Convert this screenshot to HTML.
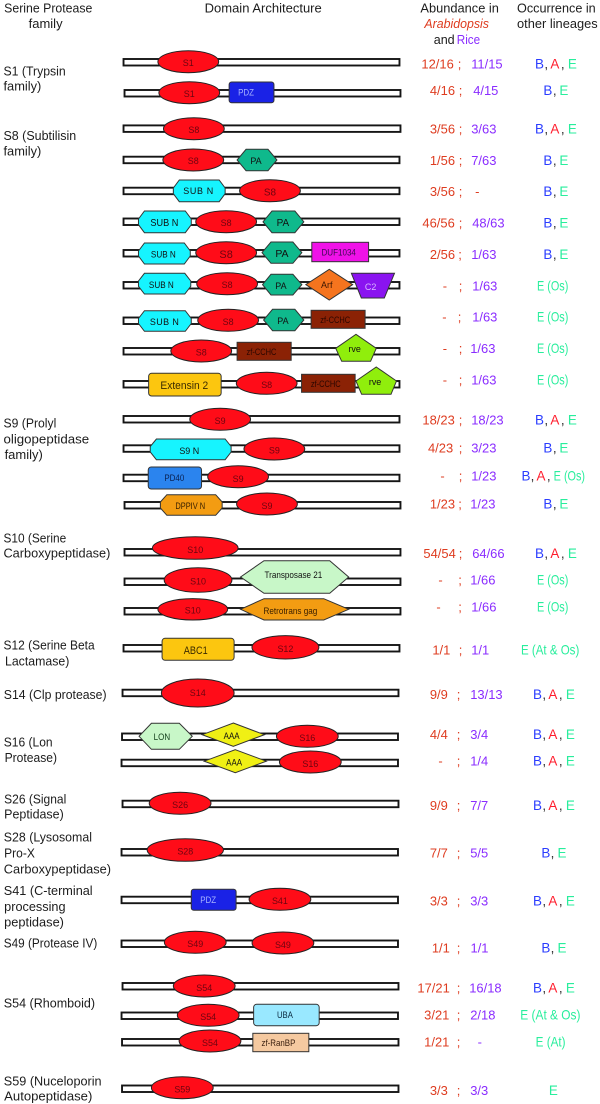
<!DOCTYPE html>
<html lang="en">
<head>
<meta charset="utf-8">
<title>Serine protease domain architecture</title>
<style>
html,body{margin:0;padding:0;background:#fff;width:600px;height:1104px;overflow:hidden}
svg{display:block}
text{font-family:"Liberation Sans",sans-serif}
.h{font-size:12.5px;fill:#1c1c1c}
.l{font-size:12.5px;fill:#1c1c1c}
.ar{font-size:13px;fill:#de3c20}
.ri{font-size:13px;fill:#8a2cff}
.o{font-size:13.5px;fill:#333}
.b{fill:#2a3cff}.a{fill:#ff1c2c}.e{fill:#28ee9c}
.bar{fill:#fff;stroke:#151515;stroke-width:1.9}
.el{fill:#ff0c18;stroke:#222;stroke-width:1}
.dm{stroke:#333;stroke-width:1}
.t{font-size:9px;text-anchor:middle;fill:#111}
.rd{fill:#6d0410}
</style>
</head>
<body>
<svg width="600" height="1104" viewBox="0 0 600 1104" xmlns="http://www.w3.org/2000/svg">
<g transform="scale(0.9962 1)">

<g>
<text class="h" x="4.2" y="12.7" textLength="88.5" lengthAdjust="spacingAndGlyphs">Serine Protease</text>
<text class="h" x="28.8" y="28" textLength="34" lengthAdjust="spacingAndGlyphs">family</text>
<text class="h" x="205.4" y="12.7" textLength="117.6" lengthAdjust="spacingAndGlyphs">Domain Architecture</text>
<text class="h" x="422" y="12.7" textLength="78.8" lengthAdjust="spacingAndGlyphs">Abundance in</text>
<text class="h" x="426" y="28" textLength="64.8" lengthAdjust="spacingAndGlyphs" style="font-style:italic;fill:#de3c20">Arabidopsis</text>
<text class="h" x="435.4" y="44" textLength="21" lengthAdjust="spacingAndGlyphs">and</text>
<text class="h" x="458.5" y="44" textLength="23.5" lengthAdjust="spacingAndGlyphs" style="fill:#8a2cff">Rice</text>
<text class="h" x="519" y="12.7" textLength="79" lengthAdjust="spacingAndGlyphs">Occurrence in</text>
<text class="h" x="519" y="28" textLength="81" lengthAdjust="spacingAndGlyphs">other lineages</text>
</g>

<g>
<text class="l" x="3.5" y="75.3" textLength="62.5" lengthAdjust="spacingAndGlyphs">S1 (Trypsin</text>
<text class="l" x="3.5" y="90.7" textLength="38" lengthAdjust="spacingAndGlyphs">family)</text>
<text class="l" x="3.5" y="140" textLength="73" lengthAdjust="spacingAndGlyphs">S8 (Subtilisin</text>
<text class="l" x="3.5" y="155.7" textLength="38" lengthAdjust="spacingAndGlyphs">family)</text>
<text class="l" x="3.5" y="427.7" textLength="53" lengthAdjust="spacingAndGlyphs">S9 (Prolyl</text>
<text class="l" x="3.5" y="443.3" textLength="86" lengthAdjust="spacingAndGlyphs">oligopeptidase</text>
<text class="l" x="4.6" y="459" textLength="38.4" lengthAdjust="spacingAndGlyphs">family)</text>
<text class="l" x="3.5" y="542.3" textLength="63" lengthAdjust="spacingAndGlyphs">S10 (Serine</text>
<text class="l" x="3.5" y="557.7" textLength="107.3" lengthAdjust="spacingAndGlyphs">Carboxypeptidase)</text>
<text class="l" x="3.5" y="649.7" textLength="91.5" lengthAdjust="spacingAndGlyphs">S12 (Serine Beta</text>
<text class="l" x="5" y="665.7" textLength="64.6" lengthAdjust="spacingAndGlyphs">Lactamase)</text>
<text class="l" x="3.8" y="699" textLength="103.2" lengthAdjust="spacingAndGlyphs">S14 (Clp protease)</text>
<text class="l" x="3.8" y="746.7" textLength="49" lengthAdjust="spacingAndGlyphs">S16 (Lon</text>
<text class="l" x="4.6" y="762" textLength="52.7" lengthAdjust="spacingAndGlyphs">Protease)</text>
<text class="l" x="4.2" y="803.3" textLength="62.3" lengthAdjust="spacingAndGlyphs">S26 (Signal</text>
<text class="l" x="4.2" y="818.3" textLength="59.8" lengthAdjust="spacingAndGlyphs">Peptidase)</text>
<text class="l" x="3.8" y="841.7" textLength="88.5" lengthAdjust="spacingAndGlyphs">S28 (Lysosomal</text>
<text class="l" x="4.2" y="857.3" textLength="30.8" lengthAdjust="spacingAndGlyphs">Pro-X</text>
<text class="l" x="3.8" y="873.3" textLength="107.7" lengthAdjust="spacingAndGlyphs">Carboxypeptidase)</text>
<text class="l" x="3.8" y="895" textLength="89.2" lengthAdjust="spacingAndGlyphs">S41 (C-terminal</text>
<text class="l" x="4.2" y="911" textLength="61.6" lengthAdjust="spacingAndGlyphs">processing</text>
<text class="l" x="4.2" y="926.7" textLength="60" lengthAdjust="spacingAndGlyphs">peptidase)</text>
<text class="l" x="3.8" y="947.3" textLength="93.9" lengthAdjust="spacingAndGlyphs">S49 (Protease IV)</text>
<text class="l" x="3.8" y="1007.3" textLength="91.6" lengthAdjust="spacingAndGlyphs">S54 (Rhomboid)</text>
<text class="l" x="3.8" y="1085.3" textLength="98.2" lengthAdjust="spacingAndGlyphs">S59 (Nuceloporin</text>
<text class="l" x="4.2" y="1100.7" textLength="88.5" lengthAdjust="spacingAndGlyphs">Autopeptidase)</text>
</g>

<g>
<rect class="bar" x="124" y="59" width="277" height="6.5"/>
<ellipse class="el" cx="189" cy="61.7" rx="30.5" ry="11"/>
<text class="t rd" x="189" y="66">S1</text>
</g>
<g>
<rect class="bar" x="125" y="90" width="277" height="6.5"/>
<ellipse class="el" cx="190" cy="92.7" rx="30.5" ry="11"/>
<text class="t rd" x="190" y="97">S1</text>
<rect class="dm" x="230" y="82" width="45" height="20.7" rx="2.5" fill="#1a22e6"/>
<text class="t" style="fill:#a8b4ff" x="247" y="95.5" textLength="16" lengthAdjust="spacingAndGlyphs">PDZ</text>
</g>

<g>
<rect class="bar" x="124" y="125.4" width="278" height="6.5"/>
<ellipse class="el" cx="194.6" cy="128.7" rx="30.5" ry="11"/>
<text class="t rd" x="194.6" y="133">S8</text>
</g>
<g>
<rect class="bar" x="124" y="156.7" width="277" height="6.5"/>
<ellipse class="el" cx="194" cy="160" rx="30.5" ry="11"/>
<text class="t rd" x="194" y="164">S8</text>
<polygon class="dm" points="247,149.3 269,149.3 278,160 269,170.7 247,170.7 238,160" fill="#0fb98c"/>
<text class="t" x="257" y="164">PA</text>
</g>
<g>
<rect class="bar" x="124" y="187.7" width="277" height="6.5"/>
<polygon class="dm" points="180,180 220,180 226,188 226,193.7 220,201.7 180,201.7 174,193.7 174,188" fill="#16f4ff"/>
<text class="t" x="199" y="194" textLength="30" lengthAdjust="spacing">SUB N</text>
<ellipse class="el" cx="271" cy="190.7" rx="30.5" ry="11"/>
<text class="t rd" x="271" y="195.5" style="font-size:10px">S8</text>
</g>
<g>
<rect class="bar" x="124" y="218.5" width="277" height="6.5"/>
<polygon class="dm" points="145,211 186,211 192,219 192,224.7 186,232.7 145,232.7 139,224.7 139,219" fill="#16f4ff"/>
<text class="t" x="165" y="226" style="font-size:10.5px" textLength="28" lengthAdjust="spacingAndGlyphs">SUB N</text>
<ellipse class="el" cx="227" cy="221.7" rx="30.5" ry="11"/>
<text class="t rd" x="227" y="226">S8</text>
<polygon class="dm" points="273,211 296,211 305,221.85 296,232.7 273,232.7 264,221.85" fill="#0fb98c"/>
<text class="t" x="284" y="226" style="font-size:10px">PA</text>
</g>
<g>
<rect class="bar" x="124" y="250" width="277" height="6.5"/>
<polygon class="dm" points="145,243 185,243 191,251 191,256 185,264 145,264 139,256 139,251" fill="#16f4ff"/>
<text class="t" x="164" y="257.5" textLength="25" lengthAdjust="spacingAndGlyphs">SUB N</text>
<ellipse class="el" cx="227" cy="252.7" rx="30.5" ry="11"/>
<text class="t rd" x="227" y="258" style="font-size:11px">S8</text>
<polygon class="dm" points="272,242 294,242 303,252.6 294,263.3 272,263.3 263,252.6" fill="#0fb98c"/>
<text class="t" x="283" y="257" style="font-size:10.5px">PA</text>
<rect class="dm" x="313" y="242.3" width="57" height="19.4" fill="#f012e8"/>
<text class="t" style="fill:#3a0a50" x="340" y="255.5" textLength="34.5" lengthAdjust="spacingAndGlyphs">DUF1034</text>
</g>
<g>
<rect class="bar" x="124" y="282" width="277" height="6.5"/>
<polygon class="dm" points="145,273.3 185.5,273.3 191.5,281 191.5,286.3 185.5,294 145,294 139,286.3 139,281" fill="#16f4ff"/>
<text class="t" x="162" y="288" textLength="25" lengthAdjust="spacingAndGlyphs">SUB N</text>
<ellipse class="el" cx="228" cy="283.7" rx="30.5" ry="11"/>
<text class="t rd" x="228" y="288">S8</text>
<polygon class="dm" points="272,274.3 294,274.3 303,284.6 294,295 272,295 263.5,284.6" fill="#0fb98c"/>
<text class="t" x="282" y="289">PA</text>
<polygon class="dm" points="330.5,269.3 354,284.6 330.5,300 307,284.6" fill="#f5741e"/>
<text class="t" x="328" y="288" style="fill:#3a1500">Arf</text>
<polygon class="dm" points="352.7,273.3 396,273.3 385.8,298 362.7,298" fill="#8a14f0"/>
<text class="t" x="372" y="290" style="fill:#d8b8ff">C2</text>
</g>
<g>
<rect class="bar" x="124" y="317.5" width="277" height="6.5"/>
<polygon class="dm" points="145,310.7 186,310.7 192,318.5 192,323.5 186,331.3 145,331.3 139,323.5 139,318.5" fill="#16f4ff"/>
<text class="t" x="165" y="325" textLength="29" lengthAdjust="spacing">SUB N</text>
<ellipse class="el" cx="229" cy="320.3" rx="30.5" ry="11"/>
<text class="t rd" x="229" y="325">S8</text>
<polygon class="dm" points="273.6,309.3 296,309.3 305,320 296,330.7 273.6,330.7 264.6,320" fill="#0fb98c"/>
<text class="t" x="284" y="324">PA</text>
<rect class="dm" x="312.3" y="310.3" width="54.2" height="18" fill="#8b2205"/>
<text class="t" style="fill:#2a0600" x="336.5" y="323" textLength="30" lengthAdjust="spacingAndGlyphs">zf-CCHC</text>
</g>
<g>
<rect class="bar" x="124" y="348" width="277" height="6.5"/>
<ellipse class="el" cx="202" cy="351" rx="30.5" ry="11"/>
<text class="t rd" x="202" y="355.5">S8</text>
<rect class="dm" x="238" y="342.3" width="54.3" height="18" fill="#8b2205"/>
<text class="t" style="fill:#2a0600" x="262.5" y="355" textLength="30" lengthAdjust="spacingAndGlyphs">zf-CCHC</text>
<polygon class="dm" points="357.3,334.3 377.7,348.3 372,361.3 343,361.3 337,348.3" fill="#90ee0c"/>
<text class="t" x="356" y="352">rve</text>
</g>
<g>
<rect class="bar" x="124" y="381" width="277" height="6.5"/>
<rect class="dm" x="149.2" y="373.3" width="72.8" height="22.7" rx="3" fill="#fcc60f"/>
<text class="t" style="font-size:11px;fill:#3a2a00" x="185" y="389" textLength="48" lengthAdjust="spacingAndGlyphs">Extensin 2</text>
<ellipse class="el" cx="267.7" cy="383.3" rx="30.5" ry="11"/>
<text class="t rd" x="267.7" y="388">S8</text>
<rect class="dm" x="302.7" y="374.3" width="53.8" height="18" fill="#8b2205"/>
<text class="t" style="fill:#2a0600" x="327" y="387" textLength="30" lengthAdjust="spacingAndGlyphs">zf-CCHC</text>
<polygon class="dm" points="377.7,367 398,381 392.5,394.3 363,394.3 357.3,381" fill="#90ee0c"/>
<text class="t" x="376.5" y="385">rve</text>
</g>

<g>
<rect class="bar" x="124" y="416" width="277" height="6.5"/>
<ellipse class="el" cx="221" cy="419.3" rx="30.5" ry="11"/>
<text class="t rd" x="221" y="424">S9</text>
</g>
<g>
<rect class="bar" x="124" y="445.3" width="277" height="6.5"/>
<polygon class="dm" points="157,439 226,439 232,446.5 232,452 226,459.7 157,459.7 150.8,452 150.8,446.5" fill="#16f4ff"/>
<text class="t" x="190" y="454">S9 N</text>
<ellipse class="el" cx="275.4" cy="449" rx="30.5" ry="11"/>
<text class="t rd" x="275.4" y="453.5">S9</text>
</g>
<g>
<rect class="bar" x="124" y="474.7" width="277" height="6.5"/>
<rect class="dm" x="148.8" y="467" width="53.5" height="22" rx="3" fill="#2b84ee"/>
<text class="t" style="fill:#0a2050" x="175" y="481" textLength="20" lengthAdjust="spacingAndGlyphs">PD40</text>
<ellipse class="el" cx="239" cy="476.7" rx="30.5" ry="11"/>
<text class="t rd" x="239" y="482">S9</text>
</g>
<g>
<rect class="bar" x="125" y="502" width="277" height="6.5"/>
<polygon class="dm" points="167.5,494.7 216.5,494.7 223,502 223,508 216.5,515.3 167.5,515.3 161,508 161,502" fill="#f39c12"/>
<text class="t" style="fill:#3a2000" x="191" y="509" textLength="30" lengthAdjust="spacingAndGlyphs">DPPIV N</text>
<ellipse class="el" cx="268" cy="504" rx="30.5" ry="11"/>
<text class="t rd" x="268" y="509">S9</text>
</g>

<g>
<rect class="bar" x="125" y="549" width="277" height="6.5"/>
<ellipse class="el" cx="196" cy="548" rx="43" ry="11.3"/>
<text class="t rd" x="196" y="553">S10</text>
</g>
<g>
<rect class="bar" x="125" y="578.5" width="277" height="6.5"/>
<ellipse class="el" cx="198.8" cy="580" rx="34" ry="12.3"/>
<text class="t rd" x="198.8" y="584.5">S10</text>
<polygon class="dm" points="265,560.7 331,560.7 350,577 331,593.3 265,593.3 241.5,577" fill="#c8f7c8"/>
<text class="t" x="294.5" y="578" textLength="58" lengthAdjust="spacingAndGlyphs">Transposase 21</text>
</g>
<g>
<rect class="bar" x="125" y="608" width="277" height="6.5"/>
<ellipse class="el" cx="193.5" cy="609.3" rx="35" ry="10.7"/>
<text class="t rd" x="193.5" y="613.5">S10</text>
<polygon class="dm" points="265,598.7 325,598.7 350,609.3 325,620 265,620 241.5,609.3" fill="#f39c12"/>
<text class="t" style="fill:#3a2000" x="291.5" y="614" textLength="54" lengthAdjust="spacingAndGlyphs">Retrotrans gag</text>
</g>

<g>
<rect class="bar" x="124" y="645" width="277" height="6.5"/>
<rect class="dm" x="162.7" y="638.3" width="72.3" height="22" rx="3" fill="#fcc60f"/>
<text class="t" style="font-size:11px;fill:#3a2a00" x="196.5" y="654" textLength="24" lengthAdjust="spacingAndGlyphs">ABC1</text>
<ellipse class="el" cx="286.5" cy="647.3" rx="33.6" ry="11.7"/>
<text class="t rd" x="286.5" y="652">S12</text>
</g>
<g>
<rect class="bar" x="123" y="689.7" width="277" height="6.5"/>
<ellipse class="el" cx="198.5" cy="693" rx="36.5" ry="14"/>
<text class="t rd" x="198.5" y="696">S14</text>
</g>
<g>
<rect class="bar" x="122.5" y="733.5" width="277" height="6.5"/>
<polygon class="dm" points="152,723.3 180,723.3 193,736.3 180,749.3 152,749.3 139.6,736.3" fill="#c8f7c8"/>
<text class="t" style="fill:#14401c" x="162.5" y="740" textLength="16.5" lengthAdjust="spacingAndGlyphs">LON</text>
<polygon class="dm" points="234.2,723 265.4,734.7 234.2,746.3 203,734.7" fill="#f0f014"/>
<text class="t" x="232.5" y="739" textLength="16" lengthAdjust="spacingAndGlyphs">AAA</text>
<ellipse class="el" cx="308.5" cy="736.3" rx="31" ry="11"/>
<text class="t rd" x="308.5" y="741">S16</text>
</g>
<g>
<rect class="bar" x="122" y="759.7" width="277.5" height="6.5"/>
<polygon class="dm" points="236.2,749.7 267.3,761.2 236.2,772.7 205,761.2" fill="#f0f014"/>
<text class="t" x="235" y="765.5" textLength="16" lengthAdjust="spacingAndGlyphs">AAA</text>
<ellipse class="el" cx="311.5" cy="762" rx="31" ry="11"/>
<text class="t rd" x="311.5" y="767">S16</text>
</g>
<g>
<rect class="bar" x="123" y="800.7" width="277" height="6.5"/>
<ellipse class="el" cx="180.8" cy="803.3" rx="31" ry="11"/>
<text class="t rd" x="180.8" y="808">S26</text>
</g>
<g>
<rect class="bar" x="122" y="849" width="277.5" height="6.5"/>
<ellipse class="el" cx="186" cy="850" rx="38.3" ry="11.3"/>
<text class="t rd" x="186" y="854.5">S28</text>
</g>
<g>
<rect class="bar" x="122" y="896.7" width="277.5" height="6.5"/>
<rect class="dm" x="192" y="889.3" width="45" height="21" rx="2.5" fill="#1a22e6"/>
<text class="t" style="fill:#a8b4ff" x="209" y="903" textLength="16" lengthAdjust="spacingAndGlyphs">PDZ</text>
<ellipse class="el" cx="281" cy="899.3" rx="31" ry="11"/>
<text class="t rd" x="281" y="904">S41</text>
</g>
<g>
<rect class="bar" x="122" y="940.5" width="277.5" height="6.5"/>
<ellipse class="el" cx="196" cy="942.3" rx="31" ry="11"/>
<text class="t rd" x="196" y="947">S49</text>
<ellipse class="el" cx="284" cy="943" rx="31" ry="11"/>
<text class="t rd" x="284" y="948">S49</text>
</g>
<g>
<rect class="bar" x="123" y="983" width="277" height="6.5"/>
<ellipse class="el" cx="205" cy="986" rx="31" ry="11"/>
<text class="t rd" x="205" y="991">S54</text>
</g>
<g>
<rect class="bar" x="122" y="1012.5" width="277.5" height="6.5"/>
<ellipse class="el" cx="209" cy="1015.3" rx="31" ry="11"/>
<text class="t rd" x="209" y="1020">S54</text>
<rect class="dm" x="254.6" y="1004.3" width="65.8" height="21.4" rx="3" fill="#99e8ff"/>
<text class="t" style="fill:#0a2a40" x="286" y="1018" textLength="16" lengthAdjust="spacingAndGlyphs">UBA</text>
</g>
<g>
<rect class="bar" x="122.5" y="1039" width="277.5" height="6.5"/>
<ellipse class="el" cx="210.8" cy="1041" rx="31" ry="11"/>
<text class="t rd" x="210.8" y="1046">S54</text>
<rect class="dm" x="253.8" y="1033.3" width="56.2" height="18.4" fill="#f5c9a0"/>
<text class="t" style="fill:#3a2010" x="279.5" y="1046" textLength="34" lengthAdjust="spacingAndGlyphs">zf-RanBP</text>
</g>
<g>
<rect class="bar" x="122.5" y="1085.5" width="277.5" height="6.5"/>
<ellipse class="el" cx="183" cy="1087.7" rx="31" ry="11"/>
<text class="t rd" x="183" y="1092.5">S59</text>
</g>

<g>
<text y="68.3"><tspan class="ar" x="423">12/16</tspan><tspan class="ar" x="459.5">;</tspan><tspan class="ri" x="473">11/15</tspan></text>
<text y="95"><tspan class="ar" x="431.5">4/16</tspan><tspan class="ar" x="460.5">;</tspan><tspan class="ri" x="475">4/15</tspan></text>
<text y="133.3"><tspan class="ar" x="431.5">3/56</tspan><tspan class="ar" x="460.5">;</tspan><tspan class="ri" x="473">3/63</tspan></text>
<text y="165"><tspan class="ar" x="431.5">1/56</tspan><tspan class="ar" x="460.5">;</tspan><tspan class="ri" x="473">7/63</tspan></text>
<text y="196"><tspan class="ar" x="431.5">3/56</tspan><tspan class="ar" x="460.5">;</tspan><tspan class="ar" x="477">-</tspan></text>
<text y="227.3"><tspan class="ar" x="424">46/56</tspan><tspan class="ar" x="460.5">;</tspan><tspan class="ri" x="474">48/63</tspan></text>
<text y="259"><tspan class="ar" x="431.5">2/56</tspan><tspan class="ar" x="460">;</tspan><tspan class="ri" x="473">1/63</tspan></text>
<text y="290.3"><tspan class="ar" x="444.5">-</tspan><tspan class="ar" x="460.5">;</tspan><tspan class="ri" x="474">1/63</tspan></text>
<text y="321.7"><tspan class="ar" x="444">-</tspan><tspan class="ar" x="459.5">;</tspan><tspan class="ri" x="474">1/63</tspan></text>
<text y="353"><tspan class="ar" x="444.5">-</tspan><tspan class="ar" x="460.5">;</tspan><tspan class="ri" x="472">1/63</tspan></text>
<text y="384.3"><tspan class="ar" x="444.5">-</tspan><tspan class="ar" x="460.5">;</tspan><tspan class="ri" x="473">1/63</tspan></text>
<text y="424.3"><tspan class="ar" x="424">18/23</tspan><tspan class="ar" x="460.5">;</tspan><tspan class="ri" x="473">18/23</tspan></text>
<text y="452.3"><tspan class="ar" x="429.6">4/23</tspan><tspan class="ar" x="460.5">;</tspan><tspan class="ri" x="473">3/23</tspan></text>
<text y="480.7"><tspan class="ar" x="442">-</tspan><tspan class="ar" x="460.5">;</tspan><tspan class="ri" x="473">1/23</tspan></text>
<text y="508.7"><tspan class="ar" x="431.5">1/23</tspan><tspan class="ar" x="460">;</tspan><tspan class="ri" x="472">1/23</tspan></text>
<text y="558"><tspan class="ar" x="425">54/54</tspan><tspan class="ar" x="460.5">;</tspan><tspan class="ri" x="474">64/66</tspan></text>
<text y="584.7"><tspan class="ar" x="440">-</tspan><tspan class="ar" x="460">;</tspan><tspan class="ri" x="472">1/66</tspan></text>
<text y="611.3"><tspan class="ar" x="438">-</tspan><tspan class="ar" x="460">;</tspan><tspan class="ri" x="473">1/66</tspan></text>
<text y="654.3"><tspan class="ar" x="434">1/1</tspan><tspan class="ar" x="460.5">;</tspan><tspan class="ri" x="473">1/1</tspan></text>
<text y="699"><tspan class="ar" x="431.5">9/9</tspan><tspan class="ar" x="458.5">;</tspan><tspan class="ri" x="472">13/13</tspan></text>
<text y="739"><tspan class="ar" x="431.5">4/4</tspan><tspan class="ar" x="458.5">;</tspan><tspan class="ri" x="472">3/4</tspan></text>
<text y="765.7"><tspan class="ar" x="440">-</tspan><tspan class="ar" x="458.5">;</tspan><tspan class="ri" x="472">1/4</tspan></text>
<text y="810"><tspan class="ar" x="431.5">9/9</tspan><tspan class="ar" x="458.5">;</tspan><tspan class="ri" x="472">7/7</tspan></text>
<text y="857.7"><tspan class="ar" x="431.5">7/7</tspan><tspan class="ar" x="458.5">;</tspan><tspan class="ri" x="472">5/5</tspan></text>
<text y="905.3"><tspan class="ar" x="431.5">3/3</tspan><tspan class="ar" x="458.5">;</tspan><tspan class="ri" x="472">3/3</tspan></text>
<text y="952.7"><tspan class="ar" x="433.5">1/1</tspan><tspan class="ar" x="458.5">;</tspan><tspan class="ri" x="472.3">1/1</tspan></text>
<text y="992.7"><tspan class="ar" x="419">17/21</tspan><tspan class="ar" x="458.5">;</tspan><tspan class="ri" x="471">16/18</tspan></text>
<text y="1019.3"><tspan class="ar" x="425.8">3/21</tspan><tspan class="ar" x="458.5">;</tspan><tspan class="ri" x="472">2/18</tspan></text>
<text y="1046.3"><tspan class="ar" x="425.8">1/21</tspan><tspan class="ar" x="458.5">;</tspan><tspan class="ri" x="479.5">-</tspan></text>
<text y="1095"><tspan class="ar" x="431.5">3/3</tspan><tspan class="ar" x="458.5">;</tspan><tspan class="ri" x="472">3/3</tspan></text>
</g>

<g>
<text class="o" y="68.3"><tspan class="b" x="537">B</tspan><tspan x="546.5">,</tspan><tspan class="a" x="552.5">A</tspan><tspan x="563">,</tspan><tspan class="e" x="570">E</tspan></text>
<text class="o" y="95"><tspan class="b" x="545.5">B</tspan><tspan x="555">,</tspan><tspan class="e" x="561.5">E</tspan></text>
<text class="o" y="133.3"><tspan class="b" x="537">B</tspan><tspan x="546.5">,</tspan><tspan class="a" x="552.5">A</tspan><tspan x="563">,</tspan><tspan class="e" x="570">E</tspan></text>
<text class="o" y="165"><tspan class="b" x="545.5">B</tspan><tspan x="555">,</tspan><tspan class="e" x="561.5">E</tspan></text>
<text class="o" y="196"><tspan class="b" x="545.5">B</tspan><tspan x="555">,</tspan><tspan class="e" x="561.5">E</tspan></text>
<text class="o" y="227.3"><tspan class="b" x="545.5">B</tspan><tspan x="555">,</tspan><tspan class="e" x="561.5">E</tspan></text>
<text class="o" y="259"><tspan class="b" x="545.5">B</tspan><tspan x="555">,</tspan><tspan class="e" x="561.5">E</tspan></text>
<text class="o e" x="539" y="290.3" textLength="31.5" lengthAdjust="spacingAndGlyphs">E (Os)</text>
<text class="o e" x="539" y="321.7" textLength="31.5" lengthAdjust="spacingAndGlyphs">E (Os)</text>
<text class="o e" x="539" y="353" textLength="31.5" lengthAdjust="spacingAndGlyphs">E (Os)</text>
<text class="o e" x="539" y="384.3" textLength="31.5" lengthAdjust="spacingAndGlyphs">E (Os)</text>
<text class="o" y="424.3"><tspan class="b" x="537">B</tspan><tspan x="546.5">,</tspan><tspan class="a" x="552.5">A</tspan><tspan x="563">,</tspan><tspan class="e" x="570">E</tspan></text>
<text class="o" y="452.3"><tspan class="b" x="545.5">B</tspan><tspan x="555">,</tspan><tspan class="e" x="561.5">E</tspan></text>
<text class="o" y="480.7"><tspan class="b" x="523.5">B</tspan><tspan x="532.7">,</tspan><tspan class="a" x="538.5">A</tspan><tspan x="549">,</tspan></text>
<text class="o e" x="555.8" y="480.7" textLength="31.5" lengthAdjust="spacingAndGlyphs">E (Os)</text>
<text class="o" y="508.7"><tspan class="b" x="545.5">B</tspan><tspan x="555">,</tspan><tspan class="e" x="561.5">E</tspan></text>
<text class="o" y="558"><tspan class="b" x="537">B</tspan><tspan x="546.5">,</tspan><tspan class="a" x="552.5">A</tspan><tspan x="563">,</tspan><tspan class="e" x="570">E</tspan></text>
<text class="o e" x="539" y="584.7" textLength="31.5" lengthAdjust="spacingAndGlyphs">E (Os)</text>
<text class="o e" x="539" y="611.3" textLength="31.5" lengthAdjust="spacingAndGlyphs">E (Os)</text>
<text class="o e" x="523" y="654.3" textLength="58.5" lengthAdjust="spacingAndGlyphs">E (At &amp; Os)</text>
<text class="o" y="699"><tspan class="b" x="535">B</tspan><tspan x="544.5">,</tspan><tspan class="a" x="550.5">A</tspan><tspan x="561">,</tspan><tspan class="e" x="568">E</tspan></text>
<text class="o" y="739"><tspan class="b" x="535">B</tspan><tspan x="544.5">,</tspan><tspan class="a" x="550.5">A</tspan><tspan x="561">,</tspan><tspan class="e" x="568">E</tspan></text>
<text class="o" y="765.7"><tspan class="b" x="535">B</tspan><tspan x="544.5">,</tspan><tspan class="a" x="550.5">A</tspan><tspan x="561">,</tspan><tspan class="e" x="568">E</tspan></text>
<text class="o" y="810"><tspan class="b" x="535">B</tspan><tspan x="544.5">,</tspan><tspan class="a" x="550.5">A</tspan><tspan x="561">,</tspan><tspan class="e" x="568">E</tspan></text>
<text class="o" y="857.7"><tspan class="b" x="543.5">B</tspan><tspan x="552.7">,</tspan><tspan class="e" x="559.6">E</tspan></text>
<text class="o" y="905.3"><tspan class="b" x="535">B</tspan><tspan x="544.5">,</tspan><tspan class="a" x="550.5">A</tspan><tspan x="561">,</tspan><tspan class="e" x="568">E</tspan></text>
<text class="o" y="952.7"><tspan class="b" x="543.5">B</tspan><tspan x="552.7">,</tspan><tspan class="e" x="559.6">E</tspan></text>
<text class="o" y="992.7"><tspan class="b" x="535">B</tspan><tspan x="544.5">,</tspan><tspan class="a" x="550.5">A</tspan><tspan x="561">,</tspan><tspan class="e" x="568">E</tspan></text>
<text class="o e" x="522.3" y="1019.3" textLength="60.4" lengthAdjust="spacingAndGlyphs">E (At &amp; Os)</text>
<text class="o e" x="537.7" y="1046.3" textLength="30" lengthAdjust="spacingAndGlyphs">E (At)</text>
<text class="o e" x="551" y="1095">E</text>
</g>

</g>
</svg>
</body>
</html>
